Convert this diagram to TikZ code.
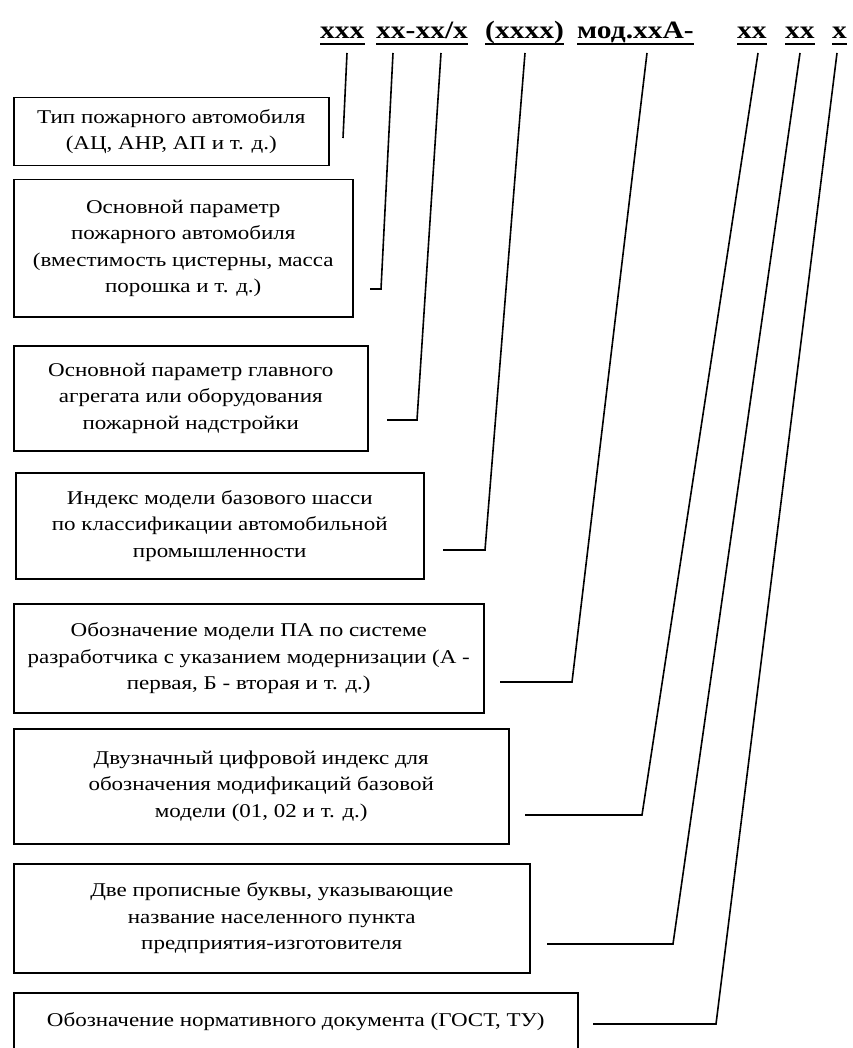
\documentclass[tikz,border=0pt]{standalone}
\usepackage{fontspec}
\setmainfont{Liberation Serif}[FakeStretch=1.18]
\begin{document}
\begin{tikzpicture}[x=1pt,y=-1pt,
  box/.style={draw, line width=1.5pt, align=center, anchor=north west, inner sep=0pt,
    font=\fontsize{19.5}{26.5}\selectfont},
  conn/.style={line width=1.6pt},
  hdr/.style={anchor=base west, inner sep=0pt, font=\fontsize{25}{28}\selectfont\bfseries},
  uline/.style={line width=1.8pt}]
\useasboundingbox (0,0) rectangle (852,1048);
\clip (0,0) rectangle (852,1048);
% header
\node[hdr] (h1) at (320,39) {ххх};
\node[hdr] (h2) at (376,39) {хх-хх/х};
\node[hdr] (h3) at (485,39) {(хххх)};
\node[hdr] (h4) at (577,39) {мод.ххА-};
\node[hdr] (h5) at (737,39) {хх};
\node[hdr] (h6) at (785,39) {хх};
\node[hdr] (h7) at (832,39) {х};
\foreach \h in {h1,h2,h3,h4,h5,h6,h7}
  \draw[uline] ([yshift=-5pt]\h.base west) -- ([yshift=-5pt]\h.base east);
% boxes
\node[box, minimum width=315pt, minimum height=68pt] (b1) at (13,97)
  {Тип пожарного автомобиля\\(АЦ, АНР, АП и т. д.)};
\node[box, minimum width=339pt, minimum height=137pt] (b2) at (13,179)
  {Основной параметр\\пожарного автомобиля\\(вместимость цистерны, масса\\порошка и т. д.)};
\node[box, minimum width=354pt, minimum height=105pt] (b3) at (13,345)
  {Основной параметр главного\\агрегата или оборудования\\пожарной надстройки};
\node[box, minimum width=408pt, minimum height=106pt] (b4) at (15,472)
  {Индекс модели базового шасси\\по классификации автомобильной\\промышленности};
\node[box, minimum width=470pt, minimum height=109pt] (b5) at (13,603)
  {Обозначение модели ПА по системе\\разработчика с указанием модернизации (А -\\первая, Б - вторая и т. д.)};
\node[box, minimum width=495pt, minimum height=115pt] (b6) at (13,728)
  {Двузначный цифровой индекс для\\обозначения модификаций базовой\\модели (01, 02 и т. д.)};
\node[box, minimum width=516pt, minimum height=109pt] (b7) at (13,863)
  {Две прописные буквы, указывающие\\название населенного пункта\\предприятия-изготовителя};
\node[box, minimum width=564pt, minimum height=58pt] (b8) at (13,992)
  {Обозначение нормативного документа (ГОСТ, ТУ)};
% connector points
\coordinate (t1) at (347,53); \coordinate (e1) at (343,138);
\coordinate (t2) at (393,53); \coordinate (c2) at (381,289); \coordinate (e2) at (370,289);
\coordinate (t3) at (441,53); \coordinate (c3) at (417,420); \coordinate (e3) at (387,420);
\coordinate (t4) at (525,53); \coordinate (c4) at (485,550); \coordinate (e4) at (443,550);
\coordinate (t5) at (647,53); \coordinate (c5) at (572,682); \coordinate (e5) at (500,682);
\coordinate (t6) at (758,53); \coordinate (c6) at (642,815); \coordinate (e6) at (525,815);
\coordinate (t7) at (800,53); \coordinate (c7) at (673,944); \coordinate (e7) at (547,944);
\coordinate (t8) at (837,53); \coordinate (c8) at (716,1024); \coordinate (e8) at (593,1024);
\draw[conn] (t1) -- (e1);
\foreach \i in {2,...,8}
  \draw[conn] (t\i) -- (c\i) -- (e\i);
\end{tikzpicture}
\end{document}
